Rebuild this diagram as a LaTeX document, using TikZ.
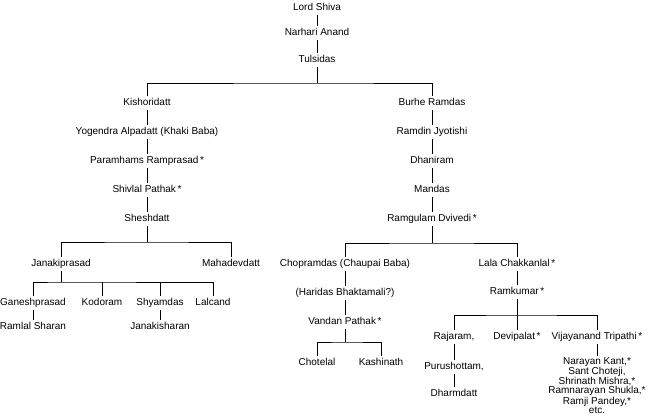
\documentclass[tikz,border=0pt]{standalone}
\usepackage{fontspec}
\setmainfont{Liberation Sans}

\begin{document}
\begin{tikzpicture}[x=1pt, y=-1pt, line width=0.8pt,
    person/.style={font=\fontsize{10}{12}\selectfont, inner sep=2pt, text height=7pt, text depth=2pt},
    group/.style={font=\fontsize{10}{9}\selectfont, inner sep=1pt, align=center, anchor=north}]
    \useasboundingbox (0,0) rectangle (658,415);

    % Stamm
    \node[person] (lord) at (317,8) {Lord Shiva};
    \node[person] (narhari) at (317,33) {Narhari Anand};
    \node[person] (tuls) at (317,60) {Tulsidas};
    \draw (lord) -- (narhari) -- (tuls);
    \coordinate (f-tuls) at (317,83);
    \draw (tuls) -- (f-tuls);

    % linke Linie
    \node[person] (kish) at (147,103) {Kishoridatt};
    \node[person] (yog) at (147,132) {Yogendra Alpadatt (Khaki Baba)};
    \node[person] (param) at (147,161) {Paramhams Ramprasad\,*};
    \node[person] (shiv) at (147,190) {Shivlal Pathak\,*};
    \node[person] (shesh) at (147,219) {Sheshdatt};
    \draw (kish) -- (yog) -- (param) -- (shiv) -- (shesh);

    % rechte Linie
    \node[person] (burhe) at (432,103) {Burhe Ramdas};
    \node[person] (ramdin) at (432,132) {Ramdin Jyotishi};
    \node[person] (dhani) at (432,161) {Dhaniram};
    \node[person] (mandas) at (432,190) {Mandas};
    \node[person] (ramg) at (432,219) {Ramgulam Dvivedi\,*};
    \draw (burhe) -- (ramdin) -- (dhani) -- (mandas) -- (ramg);
    \draw (kish) |- (f-tuls) -| (burhe);

    % Sheshdatt
    \coordinate (f-shesh) at (147,242);
    \node[person] (janaki) at (61,264) {Janakiprasad};
    \node[person] (mahadev) at (231,264) {Mahadevdatt};
    \draw (shesh) -- (f-shesh);
    \draw (janaki) |- (f-shesh) -| (mahadev);

    % Janakiprasad
    \coordinate (f-janaki) at (61,282);
    \node[person] (gan) at (33,303) {Ganeshprasad};
    \node[person] (kod) at (102,303) {Kodoram};
    \node[person] (shy) at (160,303) {Shyamdas};
    \node[person] (lal) at (213,303) {Lalcand};
    \node[person] (ramlal) at (33,327) {Ramlal Sharan};
    \node[person] (jsharan) at (160,327) {Janakisharan};
    \draw (janaki) -- (f-janaki);
    \draw (gan) |- (f-janaki) -| (lal);
    \draw (kod) -- (kod |- f-janaki);
    \draw (shy) -- (shy |- f-janaki);
    \draw (gan) -- (ramlal);
    \draw (shy) -- (jsharan);

    % Ramgulam Dvivedi
    \coordinate (f-ramg) at (432,243);
    \node[person] (chop) at (345,264) {Chopramdas (Chaupai Baba)};
    \node[person] (lala) at (517,264) {Lala Chakkanlal\,*};
    \draw (ramg) -- (f-ramg);
    \draw (chop) |- (f-ramg) -| (lala);

    % Chopramdas
    \node[person] (hari) at (345,293) {(Haridas Bhaktamali?)};
    \node[person] (vandan) at (345,322) {Vandan Pathak\,*};
    \draw (chop) -- (hari) -- (vandan);
    \coordinate (f-vandan) at (345,342);
    \node[person] (chot) at (317,363) {Chotelal};
    \node[person] (kash) at (381,363) {Kashinath};
    \draw (vandan) -- (f-vandan);
    \draw (chot) |- (f-vandan) -| (kash);

    % Lala Chakkanlal
    \node[person] (ramk) at (517,292) {Ramkumar\,*};
    \draw (lala) -- (ramk);
    \coordinate (f-ramk) at (517,315);
    \node[person] (raja) at (454,337) {Rajaram,};
    \node[person] (devi) at (517,337) {Devipalat\,*};
    \node[person] (vija) at (597,337) {Vijayanand Tripathi\,*};
    \draw (raja) |- (f-ramk) -| (vija);
    \draw (ramk) -- (devi);
    \node[person] (puru) at (454,367) {Purushottam,};
    \node[person] (dharm) at (454,394) {Dharmdatt};
    \draw (raja) -- (puru) -- (dharm);
    \node[group] (narayan) at (597,356) {Narayan Kant,*\\Sant Choteji,\\Shrinath Mishra,*\\Ramnarayan Shukla,*\\Ramji Pandey,*\\etc.};
    \draw (vija) -- (narayan);
\end{tikzpicture}
\end{document}
